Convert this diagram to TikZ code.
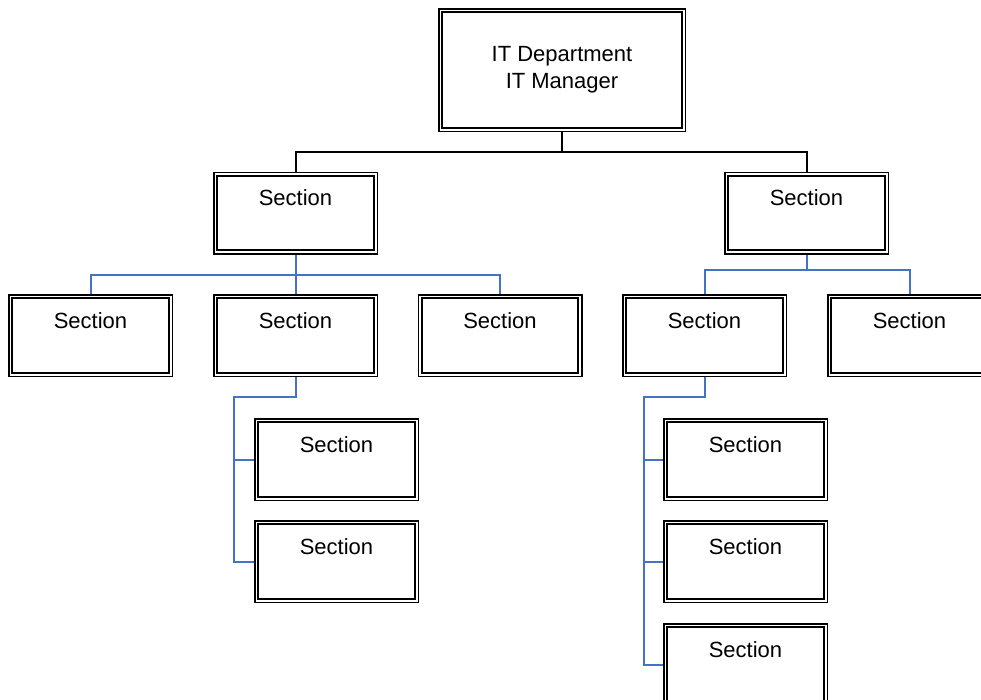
\documentclass[tikz,border=0pt]{standalone}
\usepackage{fontspec}
\setmainfont{Liberation Sans}
\usetikzlibrary{backgrounds}
\definecolor{linkblue}{HTML}{4472C4}
\begin{document}
\begin{tikzpicture}[x=1pt,y=-1pt,
  box/.style={draw=black, line width=1.5pt, fill=white, inner sep=0pt, font=\fontsize{22}{27}\selectfont,
    path picture={\draw[line width=1.9pt] ([xshift=3.6pt,yshift=-3.6pt]path picture bounding box.north west) rectangle ([xshift=-3.6pt,yshift=3.6pt]path picture bounding box.south east);}},
  sec/.style={box, minimum width=163.5pt, text height=33.3pt, text depth=48.2pt},
  blk/.style={draw=black, line width=2pt, line join=miter},
  blu/.style={draw=linkblue, line width=2pt, line join=miter}]
\path[use as bounding box] (0,0) rectangle (981,699);
\clip (0,0) rectangle (981,699);
\node[box, minimum width=246.5pt, minimum height=122.5pt, align=center] (top) at (562,70) {IT Department\\IT Manager};
\node[sec] (s1) at (295.5,213) {Section};
\node[sec] (s2) at (806.5,213) {Section};
\node[sec] (a1) at (90.5,335.5) {Section};
\node[sec] (a2) at (295.5,335.5) {Section};
\node[sec] (a3) at (500,335.5) {Section};
\node[sec] (b1) at (704.5,335.5) {Section};
\node[sec] (b2) at (909.5,335.5) {Section};
\node[sec] (c1) at (336.5,459.5) {Section};
\node[sec] (c2) at (336.5,561.5) {Section};
\node[sec] (d1) at (745.5,459.5) {Section};
\node[sec] (d2) at (745.5,561.5) {Section};
\node[sec] (d3) at (745.5,664.5) {Section};
\coordinate (ca) at (234,397);
\coordinate (cb) at (644,397);
\begin{pgfonlayer}{background}
\draw[blk] (top.south) -- (top.south |- 0,152) -| (s1.north);
\draw[blk] (top.south |- 0,152) -| (s2.north);
\draw[blu] (s1.south) -- (a2.north);
\draw[blu] (s1.south |- 0,275) -| (a1.north);
\draw[blu] (s1.south |- 0,275) -| (a3.north);
\draw[blu] (s2.south) -- (s2.south |- 0,270) -| (b1.north);
\draw[blu] (s2.south |- 0,270) -| (b2.north);
\draw[blu] (a2.south) |- (ca) |- (c2.west);
\draw[blu] (ca |- c1.west) -- (c1.west);
\draw[blu] (b1.south) |- (cb) |- (d3.west);
\draw[blu] (cb |- d1.west) -- (d1.west);
\draw[blu] (cb |- d2.west) -- (d2.west);
\end{pgfonlayer}
\end{tikzpicture}
\end{document}
